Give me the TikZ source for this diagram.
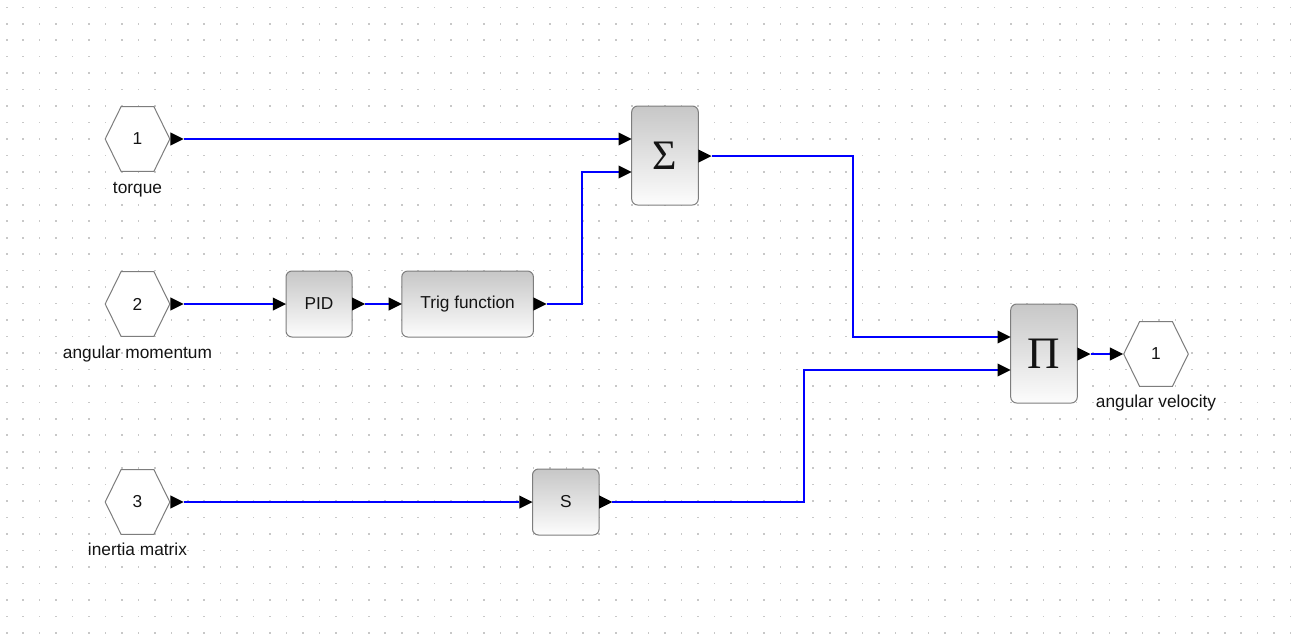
\documentclass[tikz,border=0pt]{standalone}
\usepackage{fontspec}
\setmainfont{Liberation Sans}
\newfontfamily\greekserif{Liberation Serif}
\usetikzlibrary{calc}
\definecolor{wireblue}{RGB}{0,0,255}
\definecolor{bordergray}{RGB}{125,125,125}
\definecolor{dotgray}{RGB}{200,200,200}
\tikzset{
  outtri/.pic={\fill[black] (0,-6.6) -- (13.2,0) -- (0,6.6) -- cycle;},
  intri/.pic={\fill[black] (-13.2,-6.6) -- (0,0) -- (-13.2,6.6) -- cycle;}
}
\begin{document}
\begin{tikzpicture}[x=1pt,y=-1pt,
  wire/.style={color=wireblue, line width=2pt},
  txt/.style={font=\fontsize{17.3}{19}\selectfont, text=black!92},
  blk/.style={txt, draw=bordergray, line width=1pt, rounded corners=6pt, outer sep=0pt,
    top color=black!22, bottom color=black!1, inner sep=0pt},
  bigsym/.style={font=\greekserif\fontsize{#1}{#1}\selectfont},
  lbl/.style={txt, anchor=base, inner sep=0pt},
  hexport/.style={txt, rectangle, inner sep=0pt, outer sep=0pt, minimum width=65.8pt, minimum height=65.8pt,
    path picture={
      \filldraw[fill=white, draw=bordergray, line width=1pt]
        ($(path picture bounding box.west)+(0.6,0)$) --
        ($(path picture bounding box.north west)!0.25!(path picture bounding box.north east)+(0,0.6)$) --
        ($(path picture bounding box.north west)!0.75!(path picture bounding box.north east)+(0,0.6)$) --
        ($(path picture bounding box.east)+(-0.6,0)$) --
        ($(path picture bounding box.south west)!0.75!(path picture bounding box.south east)+(0,-0.6)$) --
        ($(path picture bounding box.south west)!0.25!(path picture bounding box.south east)+(0,-0.6)$) -- cycle;
    }}
]
\useasboundingbox (0,0) rectangle (1294,635);
\fill[white] (0,0) rectangle (1294,635);
% grid
\foreach \i in {0,...,78}{
  \foreach \j in {0,...,38}{
    \fill[dotgray] ({6.7+16.46*\i-0.8},{7.3+16.46*\j-0.8}) rectangle ++(1.6,1.6);
  }
}
% ports
\node[hexport] (in1) at (137.5,139) {1};
\node[lbl] (in1l) at (137.5,193) {torque};
\node[hexport] (in2) at (137.5,304) {2};
\node[lbl] (in2l) at (137.5,358) {angular momentum};
\node[hexport] (in3) at (137.5,502) {3};
\node[lbl] (in3l) at (137.5,555) {inertia matrix};
\node[hexport] (out1) at (1156,354) {1};
\node[lbl] (out1l) at (1156,407.5) {angular velocity};
% blocks
\node[blk, bigsym=42, minimum width=66.6pt, minimum height=99pt] (sum) at (665,155.5) {Σ};
\node[blk, bigsym=45, minimum width=66.6pt, minimum height=99pt] (prod) at (1044,353.5) {Π};
\node[blk, minimum width=66pt, minimum height=66pt] (pid) at (319,304) {PID};
\node[blk, minimum width=131.6pt, minimum height=66pt] (trig) at (467.6,304) {Trig function};
\node[blk, minimum width=66.6pt, minimum height=66pt] (s) at (565.8,502) {S};
% port coordinates
\coordinate (sum-i1) at ($(sum.north west)+(0,33)$);
\coordinate (sum-i2) at ($(sum.north west)+(0,66)$);
\coordinate (sum-o) at ($(sum.east)+(0,0.5)$);
\coordinate (prod-i1) at ($(prod.north west)+(0,33)$);
\coordinate (prod-i2) at ($(prod.north west)+(0,66)$);
\coordinate (prod-o) at ($(prod.east)+(0,0.5)$);
% wires
\draw[wire] ([xshift=13.2pt]in1.east) -- ([xshift=-13.2pt]sum-i1);
\draw[wire] ([xshift=13.2pt]in2.east) -- ([xshift=-13.2pt]pid.west);
\draw[wire] ([xshift=13.2pt]pid.east) -- ([xshift=-13.2pt]trig.west);
\draw[wire] ([xshift=13.2pt]trig.east) -- (582,304) |- ([xshift=-13.2pt]sum-i2);
\draw[wire] ([xshift=13.2pt]sum-o) -- (853,156) |- ([xshift=-13.2pt]prod-i1);
\draw[wire] ([xshift=13.2pt]in3.east) -- ([xshift=-13.2pt]s.west);
\draw[wire] ([xshift=13.2pt]s.east) -- (804,502) |- ([xshift=-13.2pt]prod-i2);
\draw[wire] ([xshift=13.2pt]prod-o) -- ([xshift=-13.2pt]out1.west);
% port triangles
\pic at (in1.east) {outtri};
\pic at (in2.east) {outtri};
\pic at (in3.east) {outtri};
\pic at (sum-o) {outtri};
\pic at (prod-o) {outtri};
\pic at (pid.east) {outtri};
\pic at (trig.east) {outtri};
\pic at (s.east) {outtri};
\pic at (sum-i1) {intri};
\pic at (sum-i2) {intri};
\pic at (prod-i1) {intri};
\pic at (prod-i2) {intri};
\pic at (pid.west) {intri};
\pic at (trig.west) {intri};
\pic at (s.west) {intri};
\pic at (out1.west) {intri};
\end{tikzpicture}
\end{document}
